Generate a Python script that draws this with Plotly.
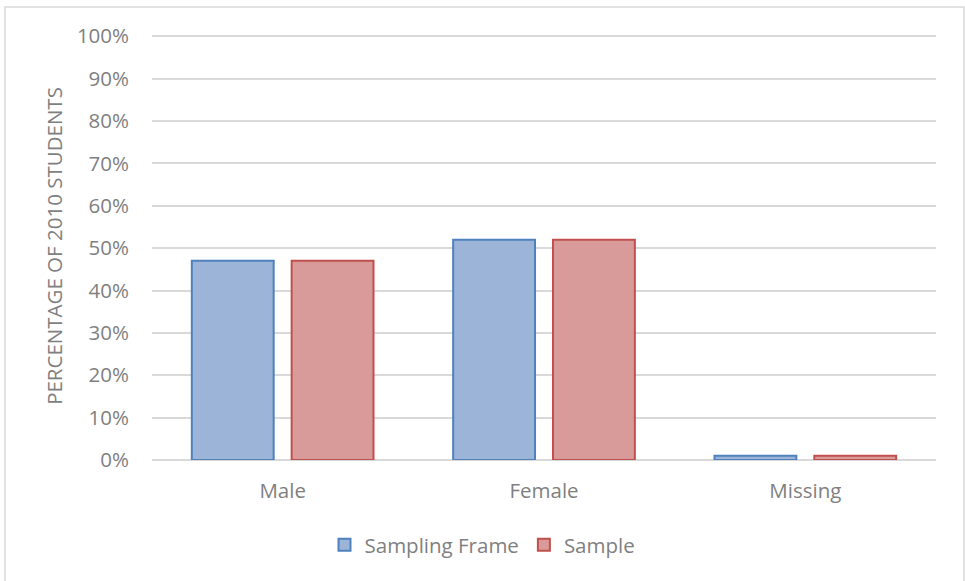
import plotly.graph_objects as go

# Share of 2010 students by gender
categories = ["Male", "Female", "Missing"]
sampling_frame = [0.47, 0.52, 0.01]
sample = [0.47, 0.52, 0.01]
y_ticks = [0, 0.1, 0.2, 0.3, 0.4, 0.5, 0.6, 0.7, 0.8, 0.9, 1.0]

FONT = "Open Sans"
TEXT = "#7f7f7f"
GRID = "#d9d9d9"
FS = 20.5

fig = go.Figure()
fig.add_trace(go.Bar(
    name="Sampling Frame", x=categories, y=sampling_frame,
    marker=dict(color="#9cb4d8", line=dict(color="#4f81bd", width=2)),
))
fig.add_trace(go.Bar(
    name="Sample", x=categories, y=sample,
    marker=dict(color="#d99b99", line=dict(color="#c0504d", width=2)),
))

W, H = 965, 581
L, R, T, B = 152, 29, 32, 121
pw, ph = W - L - R, H - T - B

fig.update_layout(
    width=W, height=H,
    margin=dict(l=L, r=R, t=T, b=B),
    paper_bgcolor="white", plot_bgcolor="white",
    font=dict(family=FONT, size=FS, color=TEXT),
    barmode="group", bargap=0.236, bargroupgap=0.18,
    showlegend=True,
    legend=dict(
        orientation="h", xref="container", x=0.5, xanchor="center",
        yref="container", y=(H - 545) / H, yanchor="middle",
        font=dict(family=FONT, size=FS, color=TEXT),
        itemwidth=30, traceorder="normal",
    ),
    xaxis=dict(
        showgrid=False, showline=False, ticks="",
        ticklabelstandoff=16,
        tickfont=dict(family=FONT, size=FS, color=TEXT),
    ),
    yaxis=dict(
        range=[0, 1.01], tickvals=y_ticks, tickformat=".0%",
        showgrid=True, gridcolor=GRID, gridwidth=1.5,
        zeroline=True, zerolinecolor=GRID, zerolinewidth=1.5,
        showline=False, ticks="", ticklabelstandoff=22,
        tickfont=dict(family=FONT, size=FS, color=TEXT),
        title=dict(text="PERCENTAGE OF 2010 STUDENTS",
                   font=dict(family=FONT, size=FS, color=TEXT), standoff=8),
    ),
    shapes=[dict(
        type="rect", xref="paper", yref="paper",
        x0=(5 - L) / pw, x1=(964 - L) / pw,
        y0=(H - B - 595) / ph, y1=(H - B - 7) / ph,
        line=dict(color="#d9d9d9", width=1.5), fillcolor="rgba(0,0,0,0)",
        layer="below",
    )],
)

fig.write_html("out.html")
